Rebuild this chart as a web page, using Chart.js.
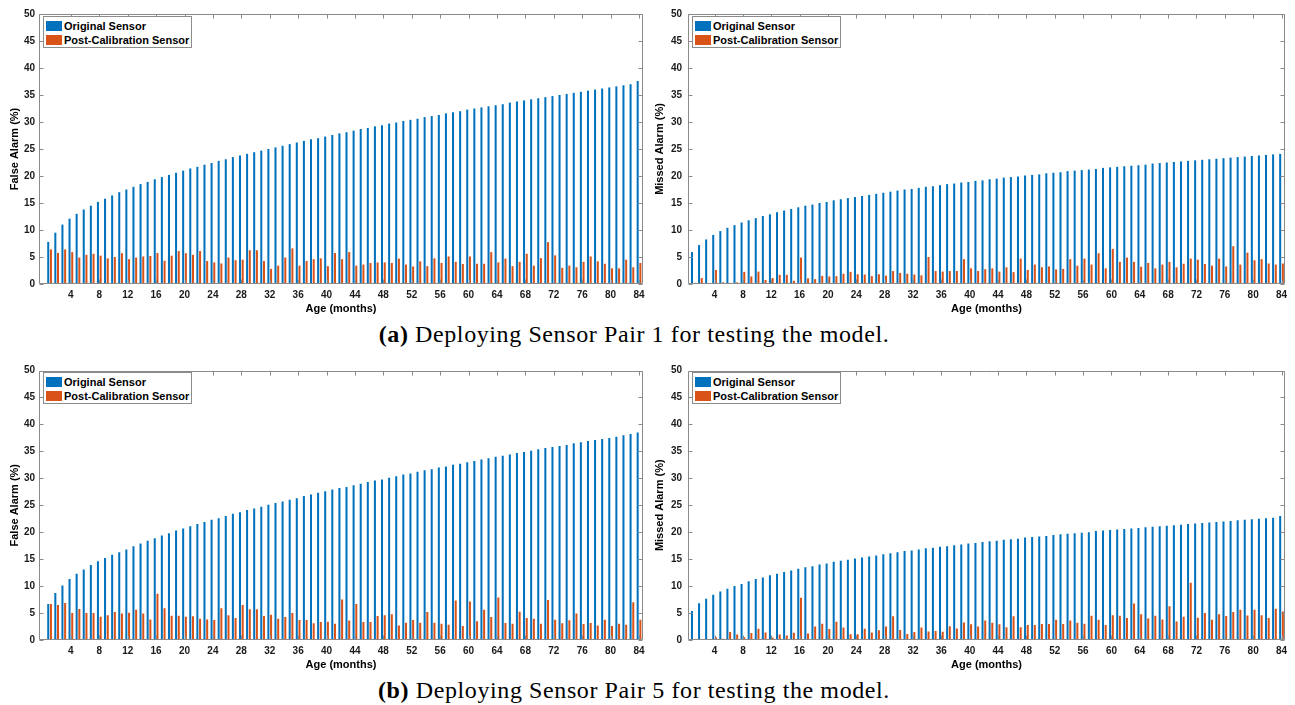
<!DOCTYPE html>
<html><head><meta charset="utf-8">
<script src="https://cdn.jsdelivr.net/npm/chart.js@4.4.1/dist/chart.umd.min.js"></script>
<style>
body{margin:0;background:#fff;width:1295px;height:705px;overflow:hidden;position:relative;font-family:"Liberation Sans",Arial,sans-serif}
canvas{position:absolute}
.legend{position:absolute;width:147px;height:30px;border:1px solid #8c8c8c;background:#fff;font:bold 11px "Liberation Sans",Arial,sans-serif;color:#000}
.legend .sw{position:absolute;left:2px;width:16px;height:10px}
.legend .tx{position:absolute;left:20px;line-height:14px;white-space:nowrap}
.cap{position:absolute;left:0;width:1268px;text-align:center;font-family:"Liberation Serif","Times New Roman",serif;font-size:24px;letter-spacing:0.6px;line-height:26px;color:#000}
</style>
</head><body>
<canvas id="c1" width="650" height="318" style="left:0;top:0"></canvas>
<canvas id="c2" width="647" height="318" style="left:648px;top:0"></canvas>
<canvas id="c3" width="650" height="318" style="left:0;top:356px"></canvas>
<canvas id="c4" width="647" height="318" style="left:648px;top:356px"></canvas>
<div class="cap" style="top:321px"><b>(a)</b> Deploying Sensor Pair 1 for testing the model.</div>
<div class="cap" style="top:677px"><b>(b)</b> Deploying Sensor Pair 5 for testing the model.</div>
<script>
const months = [1,2,3,4,5,6,7,8,9,10,11,12,13,14,15,16,17,18,19,20,21,22,23,24,25,26,27,28,29,30,31,32,33,34,35,36,37,38,39,40,41,42,43,44,45,46,47,48,49,50,51,52,53,54,55,56,57,58,59,60,61,62,63,64,65,66,67,68,69,70,71,72,73,74,75,76,77,78,79,80,81,82,83,84];
const xTicks = [4,8,12,16,20,24,28,32,36,40,44,48,52,56,60,64,68,72,76,80,84];
const yTicks = [0,5,10,15,20,25,30,35,40,45,50];
const seriesNames = ['Original Sensor','Post-Calibration Sensor'];

// Pair 1 - False Alarm (%)
const p1FalseOrig = [7.8,9.5,11.0,12.1,13.0,13.8,14.5,15.2,15.8,16.4,17.0,17.5,18.0,18.5,18.9,19.4,19.8,20.2,20.6,21.0,21.4,21.7,22.1,22.4,22.8,23.1,23.5,23.8,24.1,24.4,24.7,25.0,25.3,25.6,25.9,26.2,26.5,26.8,27.0,27.3,27.6,27.9,28.1,28.4,28.7,28.9,29.2,29.4,29.7,29.9,30.2,30.4,30.6,30.9,31.1,31.3,31.6,31.8,32.0,32.3,32.5,32.7,32.9,33.1,33.3,33.6,33.8,34.0,34.2,34.4,34.6,34.8,35.0,35.2,35.4,35.6,35.8,36.0,36.2,36.4,36.6,36.8,37.0,37.6];
const p1FalsePost = [6.4,5.75,6.4,5.9,4.9,5.4,5.6,5.25,4.75,5.0,5.7,4.6,4.9,5.1,5.2,5.75,4.3,5.25,6.1,5.7,5.4,6.1,4.25,4.0,3.8,4.9,4.4,4.5,6.25,6.25,4.25,2.8,3.4,4.9,6.6,3.4,4.25,4.6,4.75,3.3,5.75,4.6,5.9,3.4,3.6,3.9,4.0,4.0,3.9,4.7,3.6,3.25,4.2,3.3,4.75,3.9,5.1,4.1,3.7,5.1,3.75,3.75,5.9,4.0,4.7,3.3,4.1,5.6,3.4,4.8,7.75,5.3,3.0,3.4,3.1,4.1,5.1,4.2,3.75,2.9,2.9,4.5,3.1,3.9];
// Pair 1 - Missed Alarm (%)
const p1MissOrig = [5.9,7.2,8.25,9.1,9.8,10.4,10.9,11.4,11.8,12.2,12.6,12.9,13.3,13.6,13.9,14.2,14.5,14.7,15.0,15.2,15.5,15.7,15.9,16.1,16.3,16.5,16.7,16.9,17.1,17.3,17.5,17.6,17.8,18.0,18.1,18.3,18.5,18.6,18.8,18.9,19.1,19.2,19.4,19.5,19.7,19.8,19.9,20.1,20.2,20.3,20.5,20.6,20.7,20.9,21.0,21.1,21.2,21.3,21.5,21.6,21.7,21.8,21.9,22.0,22.1,22.3,22.4,22.5,22.6,22.7,22.8,22.9,23.0,23.1,23.2,23.3,23.4,23.5,23.6,23.7,23.8,23.9,24.0,24.1];
const p1MissPost = [0.05,1.1,0.2,2.6,0.3,0.2,0.3,2.25,1.4,2.3,0.75,1.1,1.7,1.7,0.6,4.9,1.05,0.9,1.5,1.4,1.45,1.9,2.25,1.8,1.75,1.45,1.8,1.55,2.4,2.05,1.9,1.75,1.6,5.0,2.4,2.3,2.4,2.4,4.6,2.9,2.4,2.75,2.9,2.3,3.1,2.2,4.7,2.6,3.6,3.1,3.25,2.7,2.8,4.6,3.4,4.7,3.6,5.7,2.9,6.5,4.1,4.9,4.1,3.2,3.9,2.9,3.6,4.1,3.1,3.75,4.7,4.5,3.7,3.4,4.7,3.25,7.0,3.6,5.8,4.4,4.6,3.8,3.6,3.8];
// Pair 5 - False Alarm (%)
const p5FalseOrig = [6.7,8.7,10.1,11.3,12.3,13.1,13.9,14.6,15.2,15.8,16.3,16.8,17.4,17.9,18.4,18.9,19.4,19.8,20.3,20.7,21.1,21.5,21.9,22.3,22.6,23.0,23.4,23.7,24.1,24.4,24.7,25.1,25.4,25.7,26.0,26.3,26.7,27.0,27.3,27.6,27.9,28.2,28.4,28.7,29.0,29.3,29.6,29.8,30.1,30.4,30.7,30.9,31.2,31.5,31.7,32.0,32.2,32.5,32.7,33.0,33.2,33.5,33.7,34.0,34.2,34.4,34.7,34.9,35.1,35.4,35.6,35.8,36.0,36.2,36.5,36.7,36.9,37.1,37.3,37.5,37.7,38.0,38.2,38.5];
const p5FalsePost = [6.7,6.5,6.85,5.0,5.75,5.0,5.0,4.3,4.6,5.2,4.9,5.05,5.6,4.9,3.8,8.6,5.9,4.5,4.5,4.3,4.4,3.95,3.8,3.7,5.9,4.6,4.1,6.5,5.7,5.7,4.45,4.7,3.95,4.25,5.0,3.7,3.7,3.1,3.35,3.4,3.0,7.5,3.6,6.7,3.35,3.35,4.45,4.6,4.8,2.7,3.2,3.7,3.2,5.2,3.2,3.0,2.85,7.35,2.6,7.15,3.5,5.6,4.25,7.9,3.15,3.0,5.25,4.1,3.95,3.0,7.4,3.75,3.1,3.65,4.9,2.95,3.15,2.7,3.75,2.6,3.0,2.85,7.0,3.75];
// Pair 5 - Missed Alarm (%)
const p5MissOrig = [5.4,6.8,7.65,8.4,9.0,9.5,10.0,10.4,10.9,11.3,11.6,12.0,12.3,12.6,12.9,13.2,13.5,13.7,14.0,14.2,14.5,14.7,14.9,15.1,15.3,15.5,15.7,15.9,16.1,16.3,16.5,16.6,16.8,17.0,17.1,17.3,17.4,17.6,17.7,17.9,18.0,18.2,18.3,18.4,18.6,18.7,18.8,19.0,19.1,19.2,19.3,19.5,19.6,19.7,19.8,19.9,20.0,20.2,20.3,20.4,20.5,20.6,20.7,20.8,20.9,21.0,21.1,21.2,21.3,21.4,21.5,21.6,21.7,21.8,21.9,22.0,22.1,22.2,22.3,22.4,22.5,22.6,22.7,23.0];
const p5MissPost = [0.05,0.05,0.2,0.5,0.25,1.5,1.0,0.5,1.3,2.1,1.4,0.45,1.0,0.85,1.35,7.85,1.2,2.5,3.0,2.05,3.4,2.3,1.05,1.05,2.1,1.4,1.8,2.5,4.4,1.85,1.1,1.5,2.3,1.6,1.65,1.55,2.55,2.15,3.25,2.9,2.5,3.6,3.2,2.9,2.35,4.4,2.35,2.8,2.8,2.95,2.95,3.75,2.95,3.6,3.2,3.0,4.5,3.75,2.8,4.6,4.5,4.1,6.75,4.8,4.0,4.5,3.8,6.25,3.45,4.3,10.6,4.15,5.0,3.75,4.8,4.45,5.2,5.6,4.55,5.6,4.6,4.1,5.8,5.3];

const BLUE = '#0072BD', ORANGE = '#D95319';
Chart.defaults.font.family = '"Liberation Sans", Arial, sans-serif';

const boxTicks = {
  id: 'boxTicks',
  afterDatasetsDraw(chart) {
    const {ctx, chartArea: a, scales: {x, y}} = chart;
    const L = Math.round(a.left) + 0.5, R = Math.round(a.right) - 0.5;
    const T = Math.round(a.top) + 0.5, B = Math.round(a.bottom) - 0.5;
    ctx.save();
    ctx.strokeStyle = '#8a8a8a';
    ctx.lineWidth = 1;
    ctx.beginPath();
    ctx.rect(L, T, R - L, B - T);
    xTicks.forEach(v => {
      const px = Math.round(x.getPixelForValue(v)) + 0.5;
      ctx.moveTo(px, B); ctx.lineTo(px, B - 4);
      ctx.moveTo(px, T); ctx.lineTo(px, T + 4);
    });
    yTicks.forEach(v => {
      const py = Math.round(y.getPixelForValue(v)) + 0.5;
      ctx.moveTo(L, py); ctx.lineTo(L + 4, py);
      ctx.moveTo(R, py); ctx.lineTo(R - 4, py);
    });
    ctx.stroke();
    ctx.restore();
  }
};

function makePanel(id, orig, post, yTitle, cfg) {
  new Chart(document.getElementById(id), {
    type: 'bar',
    data: {
      datasets: [
        {label: seriesNames[0], data: months.map((m, i) => ({x: m, y: orig[i]})), backgroundColor: BLUE, borderWidth: 0, categoryPercentage: 0.76, barPercentage: 0.75},
        {label: seriesNames[1], data: months.map((m, i) => ({x: m, y: post[i]})), backgroundColor: ORANGE, borderWidth: 0, categoryPercentage: 0.76, barPercentage: 0.75}
      ]
    },
    options: {
      responsive: false, animation: false, devicePixelRatio: 1,
      layout: {padding: {top: cfg.top, right: cfg.right, left: 0, bottom: 0}},
      plugins: {legend: {display: false}, tooltip: {enabled: false}},
      scales: {
        x: {
          type: 'linear', min: cfg.xmin, max: cfg.xmax, offset: false,
          grid: {display: false, drawTicks: false}, border: {display: false},
          afterBuildTicks: s => { s.ticks = xTicks.map(v => ({value: v})); },
          afterFit: s => { s.height = 34; },
          ticks: {autoSkip: false, maxRotation: 0, padding: 5, color: '#1a1a1a', font: {size: 10, weight: 'bold'}},
          title: {display: true, text: 'Age (months)', color: '#000', font: {size: 11, weight: 'bold'}, padding: {top: 0, bottom: 2}}
        },
        y: {
          min: 0, max: 50,
          grid: {display: false, drawTicks: false}, border: {display: false},
          afterBuildTicks: s => { s.ticks = yTicks.map(v => ({value: v})); },
          afterFit: s => { s.width = cfg.yw; },
          ticks: {padding: cfg.tp, color: '#1a1a1a', font: {size: 10, weight: 'bold'}},
          title: {display: true, text: yTitle, color: '#000', font: {size: 11, weight: 'bold'}, padding: {top: cfg.tpad, bottom: 0}}
        }
      }
    },
    plugins: [boxTicks]
  });
}

makePanel('c1', p1FalseOrig, p1FalsePost, 'False Alarm (%)', {top: 14, right: 7, yw: 39, tp: 4, tpad: 8, xmin: -0.49, xmax: 84.56});
makePanel('c2', p1MissOrig, p1MissPost, 'Missed Alarm (%)', {top: 14, right: 10, yw: 40, tp: 6, tpad: 5, xmin: 0.25, xmax: 84.49});
makePanel('c3', p5FalseOrig, p5FalsePost, 'False Alarm (%)', {top: 14.5, right: 7, yw: 39, tp: 4, tpad: 8, xmin: -0.49, xmax: 84.56});
makePanel('c4', p5MissOrig, p5MissPost, 'Missed Alarm (%)', {top: 14.5, right: 10, yw: 40, tp: 6, tpad: 5, xmin: 0.25, xmax: 84.49});

// legends (inside the axes, upper-left), built from the series names
[[43, 16], [692, 16], [43, 372], [692, 372]].forEach(([lx, ly]) => {
  const box = document.createElement('div');
  box.className = 'legend';
  box.style.left = lx + 'px';
  box.style.top = ly + 'px';
  [BLUE, ORANGE].forEach((col, i) => {
    const sw = document.createElement('div');
    sw.className = 'sw'; sw.style.background = col; sw.style.top = (4 + i * 14) + 'px';
    const tx = document.createElement('div');
    tx.className = 'tx'; tx.style.top = (2 + i * 14) + 'px'; tx.textContent = seriesNames[i];
    box.appendChild(sw); box.appendChild(tx);
  });
  document.body.appendChild(box);
});
</script>
</body></html>
